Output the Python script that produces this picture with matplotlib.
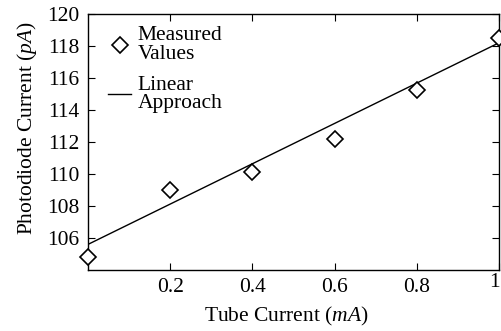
import matplotlib
matplotlib.use("Agg")
import matplotlib.pyplot as plt
from matplotlib.transforms import ScaledTranslation

# measured points
tube_current = [0.0, 0.2, 0.4, 0.6, 0.8, 1.0]
photo_current = [104.8, 109.0, 110.1, 112.2, 115.25, 118.5]

# linear approach (end points)
fit_x = [0.0, 1.0]
fit_y = [105.6, 118.2]

xticks = [0.2, 0.4, 0.6, 0.8, 1.0]
xticklabels = ["0.2", "0.4", "0.6", "0.8", "1"]
yticks = [106, 108, 110, 112, 114, 116, 118, 120]

plt.rcParams['font.family'] = ['Liberation Serif', 'DejaVu Serif']
plt.rcParams['mathtext.fontset'] = 'custom'
plt.rcParams['mathtext.rm'] = 'Liberation Serif'
plt.rcParams['mathtext.it'] = 'Liberation Serif:italic'

fs = 15.5

fig = plt.figure(figsize=(5.02, 3.31), dpi=100)
ax = fig.add_axes([0.1753, 0.1843, 0.8187, 0.7734])

ax.plot(tube_current, photo_current, linestyle='none', marker='D', markersize=8.5,
        markerfacecolor='white', markeredgecolor='black', markeredgewidth=1.2,
        label='Measured\nValues', clip_on=False, zorder=3)
ax.plot(fit_x, fit_y, color='black', linewidth=1.0, label='Linear\nApproach')

ax.set_xlim(0, 1)
ax.set_ylim(104, 120)
ax.set_xticks(xticks)
ax.set_xticklabels(xticklabels)
ax.set_yticks(yticks)
ax.tick_params(direction='in', top=True, right=True, length=5, width=0.8,
               labelsize=fs)
ax.tick_params(axis='y', pad=6)
ax.tick_params(axis='x', pad=6)
for s in ax.spines.values():
    s.set_linewidth(1.0)

# last x label sits a bit left and up, as in the original
last = ax.get_xticklabels()[-1]
last.set_transform(last.get_transform() + ScaledTranslation(-5 / 100, 5 / 100, fig.dpi_scale_trans))

ax.set_xlabel(r'Tube Current $\mathit{(mA)}$', fontsize=fs)
ax.xaxis.set_label_coords(0.483, -0.135)
ax.set_ylabel(r'Photodiode Current $\mathit{(pA)}$', fontsize=fs)
ax.yaxis.set_label_coords(-0.12, 0.555)

leg = ax.legend(loc='upper left', frameon=False, fontsize=fs, handlelength=1.1,
                handletextpad=0.3, labelspacing=0.55, borderaxespad=0.0,
                bbox_to_anchor=(0.027, 0.985))
for t in leg.get_texts():
    t.set_linespacing(0.95)

fig.savefig('out.png', dpi=100)
